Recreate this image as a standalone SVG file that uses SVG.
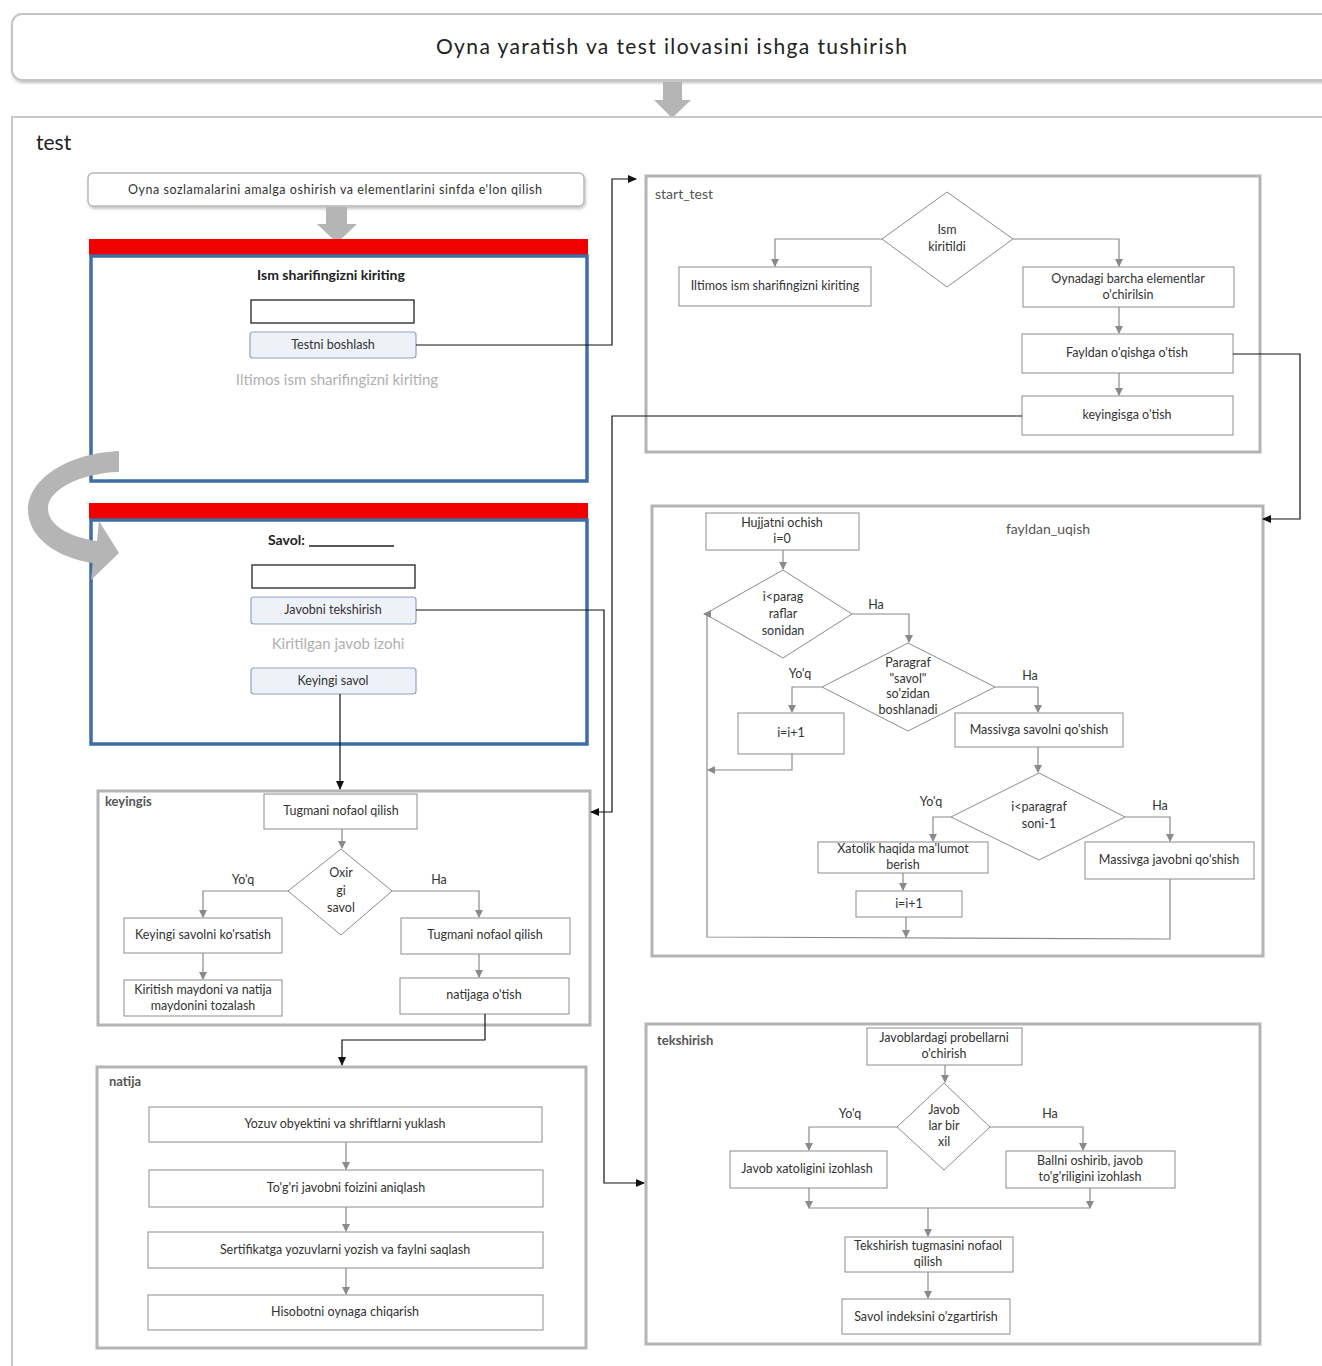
<svg xmlns="http://www.w3.org/2000/svg" width="1322" height="1366" viewBox="0 0 1322 1366">
<defs>
<style>
.t{font-family:Lato,"Open Sans","Liberation Sans",sans-serif;font-size:12.5px;fill:#333;text-anchor:middle}
.lab{font-family:Lato,"Open Sans","Liberation Sans",sans-serif;font-size:14px;fill:#555}
.box{fill:#fff;stroke:#8c8c8c;stroke-width:1}
.frame{fill:#fff;stroke:#b4b4b4;stroke-width:3}
.cn{fill:none;stroke:#8a8a8a;stroke-width:1.2}
.bk{fill:none;stroke:#111;stroke-width:1.2}
.btn{fill:#eef2f8;stroke:#8fa3c2;stroke-width:1.2}
.win{fill:#fff;stroke:#3e6ea6;stroke-width:3.5}
.bar{fill:#f20000}
.gray{fill:#b5b5b5}
.hint{font-family:Lato,"Open Sans","Liberation Sans",sans-serif;font-size:15px;fill:#b0b0b0;text-anchor:middle}
</style>
<marker id="ag" markerWidth="8" markerHeight="8" refX="7" refY="4" orient="auto" markerUnits="userSpaceOnUse"><path d="M0,0 L8,4 L0,8 Z" fill="#8a8a8a"/></marker>
<marker id="ab" markerWidth="9" markerHeight="8" refX="8" refY="4" orient="auto" markerUnits="userSpaceOnUse"><path d="M0,0 L9,4 L0,8 Z" fill="#111"/></marker>
<filter id="sh" x="-5%" y="-5%" width="110%" height="120%"><feDropShadow dx="1" dy="2" stdDeviation="1.5" flood-color="#000" flood-opacity="0.25"/></filter>
</defs>
<rect width="1322" height="1366" fill="#fff"/>

<g id="title">
<rect x="12" y="14" width="1330" height="66" rx="10" fill="#fff" stroke="#c4c4c4" stroke-width="2" filter="url(#sh)"/>
<text x="436" y="54" textLength="471" lengthAdjust="spacing" style="font-family:Lato,'Open Sans',sans-serif;font-size:21px;fill:#222">Oyna yaratish va test ilovasini ishga tushirish</text>
</g>
<polygon class="gray" points="663,82 682,82 682,100 691,100 672,118 654,100 663,100"/>

<g id="test">
<rect x="12" y="117" width="1330" height="1260" fill="#fff" stroke="#c8c8c8" stroke-width="2"/>
<text x="36" y="150" style="font-family:Lato,'Open Sans',sans-serif;font-size:21px;fill:#222">test</text>
</g>

<g id="init">
<rect x="88" y="173" width="496" height="33" rx="5" fill="#fff" stroke="#b8b8b8" stroke-width="1.5" filter="url(#sh)"/>
<text class="t" x="128" y="194" textLength="414" lengthAdjust="spacing" style="text-anchor:start">Oyna sozlamalarini amalga oshirish va elementlarini sinfda e'lon qilish</text>
</g>
<polygon class="gray" points="326,207 347,207 347,224 357,224 337,243 317,224 326,224"/>

<g id="form1">
<rect class="bar" x="89" y="239" width="499" height="16"/>
<rect class="win" x="91" y="256" width="496" height="225"/>
<text x="331" y="280" style="font-family:Lato,'Open Sans',sans-serif;font-size:14px;font-weight:bold;fill:#222;text-anchor:middle">Ism sharifingizni kiriting</text>
<rect x="251" y="300" width="163" height="23" fill="#fff" stroke="#222" stroke-width="1.3"/>
<rect class="btn" x="250" y="332" width="166" height="26" rx="3"/>
<text class="t" x="333" y="349">Testni boshlash</text>
<text class="hint" x="337" y="385">Iltimos ism sharifingizni kiriting</text>
</g>

<g id="form2">
<rect class="bar" x="89" y="503" width="499" height="16"/>
<rect class="win" x="91" y="520" width="496" height="224"/>
<text x="268" y="545" style="font-family:Lato,'Open Sans',sans-serif;font-size:14px;font-weight:bold;fill:#222">Savol:</text>
<line x1="309" y1="546" x2="394" y2="546" stroke="#222" stroke-width="1.3"/>
<rect x="252" y="565" width="163" height="23" fill="#fff" stroke="#222" stroke-width="1.3"/>
<rect class="btn" x="251" y="597" width="165" height="27" rx="3"/>
<text class="t" x="333" y="614">Javobni tekshirish</text>
<text class="hint" x="338" y="649">Kiritilgan javob izohi</text>
<rect class="btn" x="251" y="668" width="165" height="26" rx="3"/>
<text class="t" x="333" y="685">Keyingi savol</text>
</g>

<path id="curved-arrow" class="gray" d="M119,451 C70,453 28,478 28,510 C28,538 58,558 93,563 L91,580 L119,553 L99,521 L97,541 C70,537 48,526 48,508 C48,490 80,473 119,472 Z"/>

<g id="start_test">
<rect class="frame" x="646" y="176" width="614" height="276"/>
<text class="lab" x="655" y="199">start_test</text>
<polygon class="box" points="947,192 1013,239 947,287 882,239"/>
<text class="t" x="947" y="234">Ism</text>
<text class="t" x="947" y="251">kiritildi</text>
<rect class="box" x="679" y="267" width="192" height="39"/>
<text class="t" x="775" y="290">Iltimos ism sharifingizni kiriting</text>
<rect class="box" x="1023" y="267" width="211" height="40"/>
<text class="t" x="1128" y="283">Oynadagi barcha elementlar</text>
<text class="t" x="1128" y="299">o'chirilsin</text>
<rect class="box" x="1022" y="334" width="211" height="39"/>
<text class="t" x="1127" y="357">Fayldan o'qishga o'tish</text>
<rect class="box" x="1022" y="396" width="211" height="39"/>
<text class="t" x="1127" y="419">keyingisga o'tish</text>
</g>

<g id="fayldan_uqish">
<rect class="frame" x="652" y="506" width="611" height="450"/>
<text class="lab" x="1048" y="534" style="text-anchor:middle">fayldan_uqish</text>
<rect class="box" x="706" y="513" width="153" height="37"/>
<text class="t" x="782" y="527">Hujjatni ochish</text>
<text class="t" x="782" y="543">i=0</text>
<polygon class="box" points="783,570 852,614 783,658 705,614"/>
<text class="t" x="783" y="601">i&lt;parag</text>
<text class="t" x="783" y="618">raflar</text>
<text class="t" x="783" y="635">sonidan</text>
<text class="t" x="876" y="609">Ha</text>
<polygon class="box" points="908,643 995,687 908,731 822,687"/>
<text class="t" x="908" y="667">Paragraf</text>
<text class="t" x="908" y="683">"savol"</text>
<text class="t" x="908" y="698">so'zidan</text>
<text class="t" x="908" y="714">boshlanadi</text>
<text class="t" x="800" y="678">Yo'q</text>
<text class="t" x="1030" y="680">Ha</text>
<rect class="box" x="738" y="713" width="106" height="41"/>
<text class="t" x="791" y="737">i=i+1</text>
<rect class="box" x="955" y="713" width="168" height="34"/>
<text class="t" x="1039" y="734">Massivga savolni qo'shish</text>
<polygon class="box" points="1039,773 1125,817 1039,860 951,817"/>
<text class="t" x="1039" y="811">i&lt;paragraf</text>
<text class="t" x="1039" y="828">soni-1</text>
<text class="t" x="931" y="806">Yo'q</text>
<text class="t" x="1160" y="810">Ha</text>
<rect class="box" x="818" y="842" width="170" height="31"/>
<text class="t" x="903" y="853">Xatolik haqida ma'lumot</text>
<text class="t" x="903" y="869">berish</text>
<rect class="box" x="856" y="891" width="106" height="26"/>
<text class="t" x="909" y="908">i=i+1</text>
<rect class="box" x="1085" y="842" width="169" height="37"/>
<text class="t" x="1169" y="864">Massivga javobni qo'shish</text>
</g>

<g id="keyingis">
<rect class="frame" x="98" y="791" width="492" height="234"/>
<text class="lab" x="105" y="806" style="font-weight:bold;font-size:13px">keyingis</text>
<rect class="box" x="264" y="794" width="153" height="35"/>
<text class="t" x="341" y="815">Tugmani nofaol qilish</text>
<polygon class="box" points="341,849 392,891 341,935 288,891"/>
<text class="t" x="341" y="877">Oxir</text>
<text class="t" x="341" y="895">gi</text>
<text class="t" x="341" y="912">savol</text>
<text class="t" x="243" y="884">Yo'q</text>
<text class="t" x="439" y="884">Ha</text>
<rect class="box" x="124" y="918" width="158" height="35"/>
<text class="t" x="203" y="939">Keyingi savolni ko'rsatish</text>
<rect class="box" x="124" y="980" width="158" height="36"/>
<text class="t" x="203" y="994">Kiritish maydoni va natija</text>
<text class="t" x="203" y="1010">maydonini tozalash</text>
<rect class="box" x="401" y="918" width="169" height="36"/>
<text class="t" x="485" y="939">Tugmani nofaol qilish</text>
<rect class="box" x="400" y="978" width="169" height="36"/>
<text class="t" x="484" y="999">natijaga o'tish</text>
</g>

<g id="natija">
<rect class="frame" x="97" y="1067" width="489" height="281"/>
<text class="lab" x="109" y="1086" style="font-weight:bold;font-size:13px">natija</text>
<rect class="box" x="149" y="1107" width="393" height="35"/>
<text class="t" x="345" y="1128">Yozuv obyektini va shriftlarni yuklash</text>
<rect class="box" x="149" y="1170" width="394" height="37"/>
<text class="t" x="346" y="1192">To'g'ri javobni foizini aniqlash</text>
<rect class="box" x="148" y="1232" width="395" height="36"/>
<text class="t" x="345" y="1254">Sertifikatga yozuvlarni yozish va faylni saqlash</text>
<rect class="box" x="148" y="1295" width="395" height="35"/>
<text class="t" x="345" y="1316">Hisobotni oynaga chiqarish</text>
</g>

<g id="tekshirish">
<rect class="frame" x="646" y="1024" width="614" height="320"/>
<text class="lab" x="657" y="1045" style="font-weight:bold;font-size:13px">tekshirish</text>
<rect class="box" x="867" y="1028" width="155" height="37"/>
<text class="t" x="944" y="1042">Javoblardagi probellarni</text>
<text class="t" x="944" y="1058">o'chirish</text>
<polygon class="box" points="944,1083 990,1127 944,1170 897,1127"/>
<text class="t" x="944" y="1114">Javob</text>
<text class="t" x="944" y="1130">lar bir</text>
<text class="t" x="944" y="1146">xil</text>
<text class="t" x="850" y="1118">Yo'q</text>
<text class="t" x="1050" y="1118">Ha</text>
<rect class="box" x="730" y="1151" width="157" height="37"/>
<text class="t" x="807" y="1173">Javob xatoligini izohlash</text>
<rect class="box" x="1006" y="1151" width="169" height="37"/>
<text class="t" x="1090" y="1165">Ballni oshirib, javob</text>
<text class="t" x="1090" y="1181">to'g'riligini izohlash</text>
<rect class="box" x="845" y="1237" width="168" height="35"/>
<text class="t" x="928" y="1250">Tekshirish tugmasini nofaol</text>
<text class="t" x="928" y="1266">qilish</text>
<rect class="box" x="842" y="1299" width="168" height="35"/>
<text class="t" x="926" y="1321">Savol indeksini o'zgartirish</text>
</g>

<g id="connectors">
<path class="bk" d="M416,345 H612 V179 H636" marker-end="url(#ab)"/>
<path class="bk" d="M340,694 V789" marker-end="url(#ab)"/>
<path class="bk" d="M416,610 H604 V1183 H644" marker-end="url(#ab)"/>
<path class="bk" d="M1022,416 H612 V812 H591" marker-end="url(#ab)"/>
<path class="bk" d="M1233,354 H1300 V519 H1263" marker-end="url(#ab)"/>
<path class="bk" d="M485,1014 V1040 H342 V1065" marker-end="url(#ab)"/>
<path class="cn" d="M882,239 H775 V266" marker-end="url(#ag)"/>
<path class="cn" d="M1013,239 H1119 V266" marker-end="url(#ag)"/>
<path class="cn" d="M1119,307 V333" marker-end="url(#ag)"/>
<path class="cn" d="M1119,373 V395" marker-end="url(#ag)"/>
<path class="cn" d="M783,550 V569" marker-end="url(#ag)"/>
<path class="cn" d="M852,614 H909 V642" marker-end="url(#ag)"/>
<path class="cn" d="M822,687 H792 V712" marker-end="url(#ag)"/>
<path class="cn" d="M995,687 H1038 V712" marker-end="url(#ag)"/>
<path class="cn" d="M792,754 V770 H708" marker-end="url(#ag)"/>
<path class="cn" d="M1170,879 V939 L707,937 V614 H704" marker-end="url(#ag)"/>
<path class="cn" d="M1038,747 V772" marker-end="url(#ag)"/>
<path class="cn" d="M951,817 H933 V841" marker-end="url(#ag)"/>
<path class="cn" d="M1125,817 H1170 V841" marker-end="url(#ag)"/>
<path class="cn" d="M903,873 V890" marker-end="url(#ag)"/>
<path class="cn" d="M906,917 V937" marker-end="url(#ag)"/>
<path class="cn" d="M342,829 V848" marker-end="url(#ag)"/>
<path class="cn" d="M288,891 H203 V917" marker-end="url(#ag)"/>
<path class="cn" d="M392,891 H479 V917" marker-end="url(#ag)"/>
<path class="cn" d="M203,953 V979" marker-end="url(#ag)"/>
<path class="cn" d="M479,954 V977" marker-end="url(#ag)"/>
<path class="cn" d="M346,1142 V1169" marker-end="url(#ag)"/>
<path class="cn" d="M346,1207 V1231" marker-end="url(#ag)"/>
<path class="cn" d="M346,1268 V1294" marker-end="url(#ag)"/>
<path class="cn" d="M945,1065 V1082" marker-end="url(#ag)"/>
<path class="cn" d="M897,1127 H809 V1150" marker-end="url(#ag)"/>
<path class="cn" d="M990,1127 H1083 V1150" marker-end="url(#ag)"/>
<path class="cn" d="M809,1188 V1208" marker-end="url(#ag)"/>
<path class="cn" d="M1090,1188 V1208" marker-end="url(#ag)"/>
<path class="cn" d="M809,1208 H1090"/>
<path class="cn" d="M928,1208 V1236" marker-end="url(#ag)"/>
<path class="cn" d="M928,1272 V1298" marker-end="url(#ag)"/>
</g>
</svg>
